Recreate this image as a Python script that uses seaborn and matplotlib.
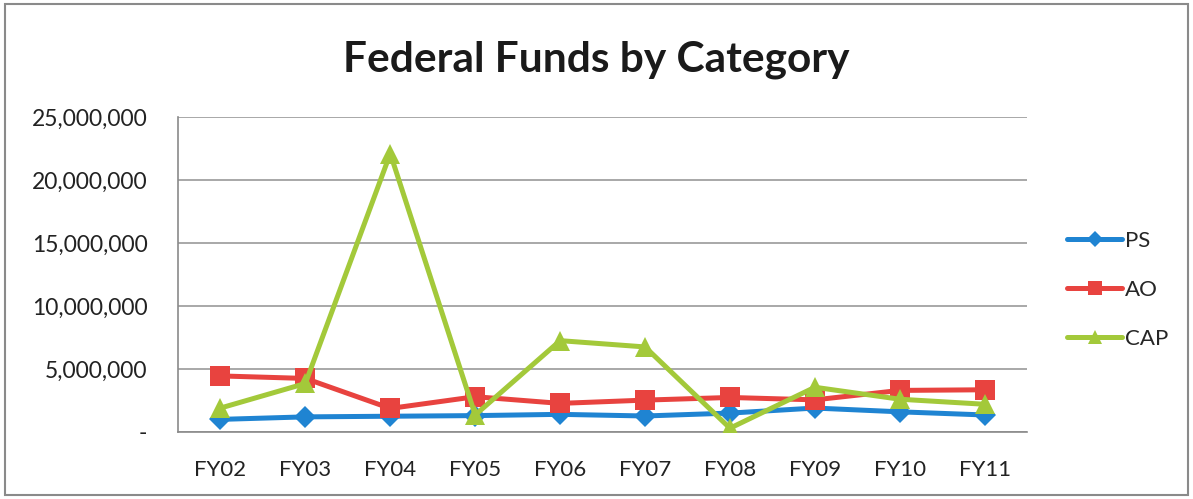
import matplotlib
matplotlib.use("Agg")
import matplotlib.pyplot as plt
import matplotlib.patches as mpatches
from matplotlib.lines import Line2D
import seaborn as sns
import pandas as pd

# Federal funds by category, fiscal years 2002-2011
years = ["FY02", "FY03", "FY04", "FY05", "FY06", "FY07", "FY08", "FY09", "FY10", "FY11"]
ps = [1000000, 1200000, 1250000, 1300000, 1400000, 1270000, 1500000, 1900000, 1600000, 1350000]
ao = [4450000, 4250000, 1870000, 2800000, 2270000, 2530000, 2740000, 2550000, 3300000, 3350000]
cap = [1900000, 3850000, 22100000, 1350000, 7250000, 6750000, 300000, 3550000, 2600000, 2200000]

y_ticks = [0, 5000000, 10000000, 15000000, 20000000, 25000000]
y_tick_labels = ["-", "5,000,000", "10,000,000", "15,000,000", "20,000,000", "25,000,000"]

series_names = ["PS", "AO", "CAP"]
colors = {"PS": "#1f84d2", "AO": "#e8433f", "CAP": "#a3c93a"}
markers = {"PS": "D", "AO": "s", "CAP": "^"}
marker_sizes = {"PS": 11, "AO": 15, "CAP": 15}

df = pd.DataFrame({"year": years * 3,
                   "x": list(range(len(years))) * 3,
                   "value": ps + ao + cap,
                   "series": ["PS"] * len(years) + ["AO"] * len(years) + ["CAP"] * len(years)})

sns.set_theme(style="white")
plt.rcParams["font.family"] = ["Lato", "DejaVu Sans"]

fig = plt.figure(figsize=(11.93, 4.99), dpi=100)
ax = fig.add_axes([0.1492, 0.1343, 0.7118, 0.6312])

for name in series_names:
    sub = df[df["series"] == name]
    sns.lineplot(data=sub, x="x", y="value", ax=ax, color=colors[name],
                 linewidth=3.6, marker=markers[name], markersize=marker_sizes[name],
                 markeredgewidth=0, legend=False, zorder=3)

ax.set_xlim(-0.5, len(years) - 0.5)
ax.set_ylim(0, 25000000)
ax.set_xticks(range(len(years)))
ax.set_xticklabels(years, fontsize=16, color="#222222")
ax.set_yticks(y_ticks)
ax.set_yticklabels(y_tick_labels, fontsize=16.5, color="#222222")
ax.tick_params(axis="x", pad=20, length=0)
ax.tick_params(axis="y", pad=22, length=0)
ax.set_xlabel("")
ax.set_ylabel("")
ax.yaxis.grid(True, color="#9a9a9a", linewidth=1.2)
ax.xaxis.grid(False)
for side in ["top", "right"]:
    ax.spines[side].set_visible(False)
ax.spines["left"].set_color("#8a8a8a")
ax.spines["bottom"].set_color("#8a8a8a")
ax.spines["left"].set_linewidth(1.2)
ax.spines["bottom"].set_linewidth(1.2)

fig.text(0.5, 0.88, "Federal Funds by Category", ha="center", va="center",
         fontsize=30.5, fontweight="bold", color="#1a1a1a")

handles = [Line2D([0], [0], color=colors[n], linewidth=3.6, marker=markers[n],
                  markersize=marker_sizes[n] * 0.7, markeredgewidth=0) for n in series_names]
fig.legend(handles, series_names, loc="center left", bbox_to_anchor=(0.885, 0.419),
           frameon=False, fontsize=16, handlelength=2.5, handletextpad=0.1,
           labelspacing=1.3, borderpad=0)

fig.patches.append(mpatches.Rectangle((0.004, 0.008), 0.992, 0.984, transform=fig.transFigure,
                                      fill=False, edgecolor="#8a8a8a", linewidth=1.5))

fig.savefig("out.png", dpi=100)
